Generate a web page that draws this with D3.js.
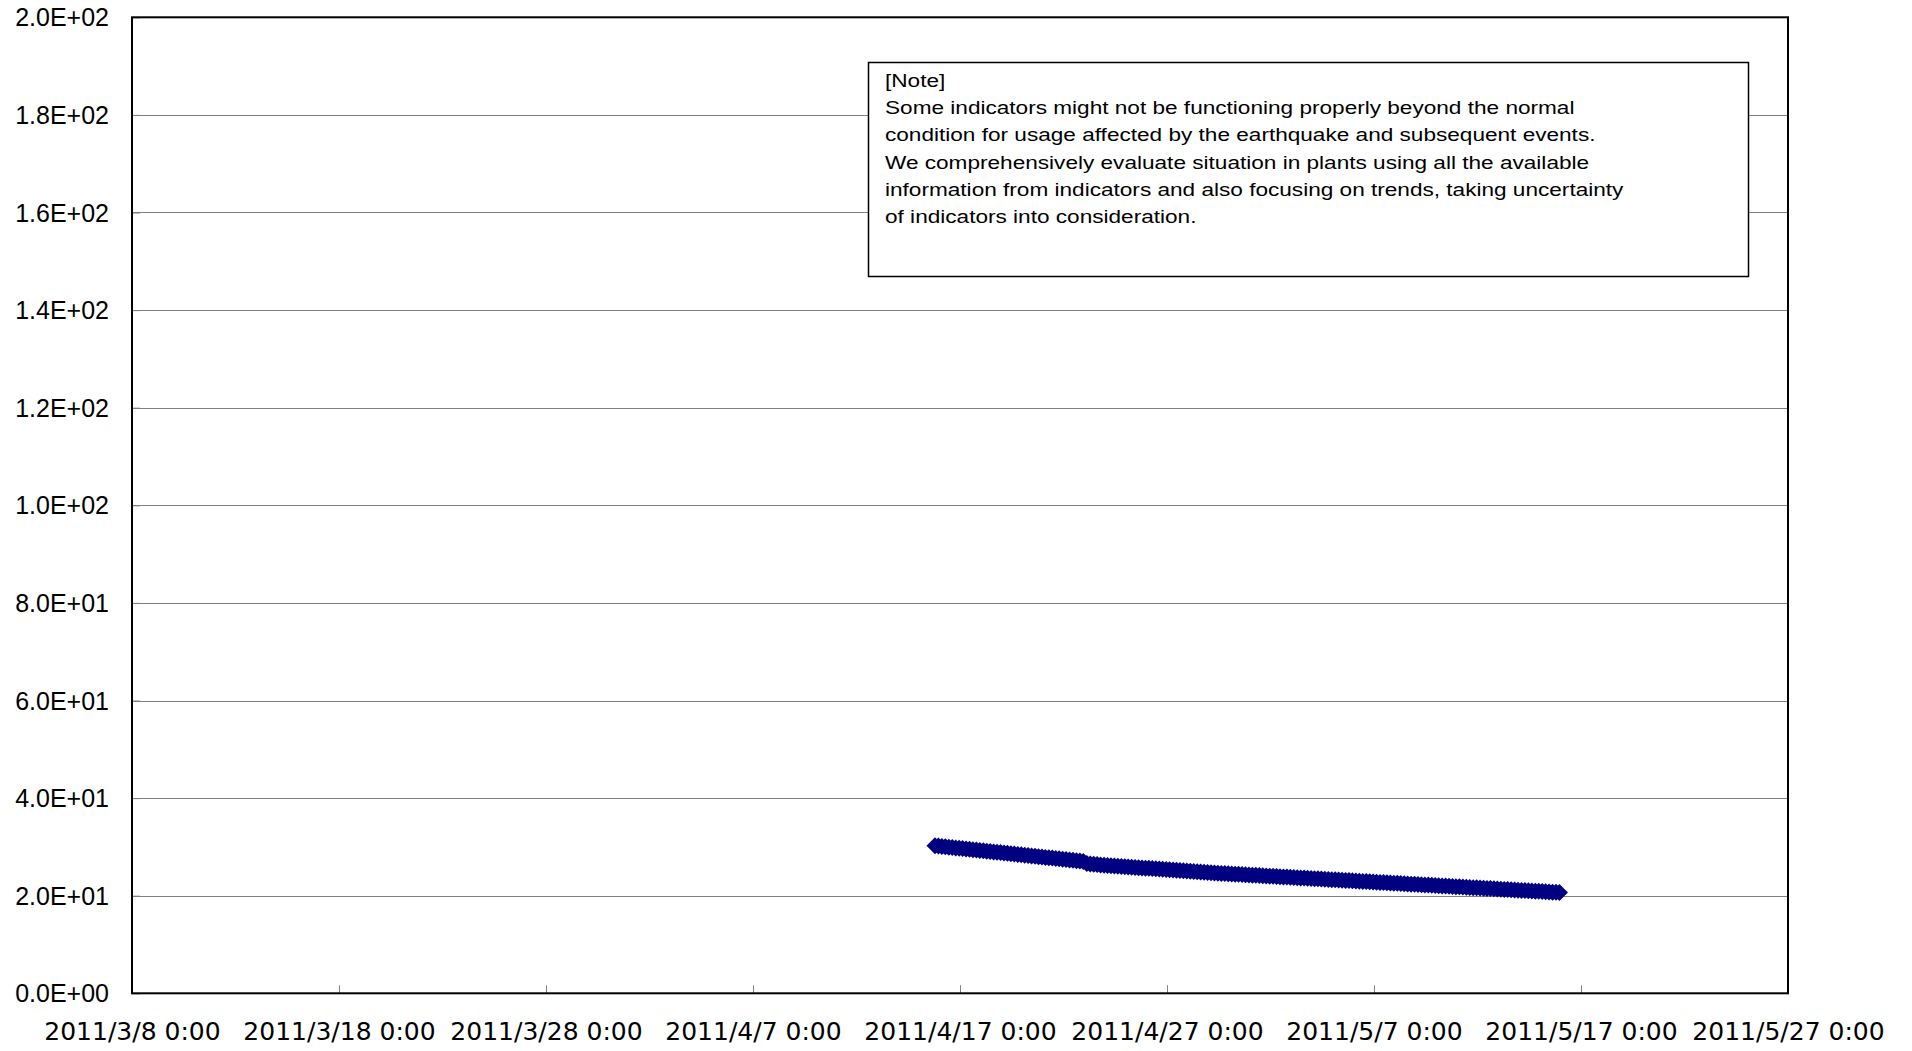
<!DOCTYPE html>
<html>
<head>
<meta charset="utf-8">
<script src="https://cdn.jsdelivr.net/npm/d3@7"></script>
<style>
  html, body { margin: 0; padding: 0; background: #fff; }
  svg { display: block; }
</style>
</head>
<body>
<svg id="chart" width="1912" height="1051"></svg>
<script>
// ---------------- data ----------------
const xDomain = ["2011-03-08T00:00", "2011-05-27T00:00"];
const xTickDates = ["2011-03-08T00:00", "2011-03-18T00:00", "2011-03-28T00:00", "2011-04-07T00:00",
  "2011-04-17T00:00", "2011-04-27T00:00", "2011-05-07T00:00", "2011-05-17T00:00", "2011-05-27T00:00"];
const xTickLabels = ["2011/3/8 0:00", "2011/3/18 0:00", "2011/3/28 0:00", "2011/4/7 0:00",
  "2011/4/17 0:00", "2011/4/27 0:00", "2011/5/7 0:00", "2011/5/17 0:00", "2011/5/27 0:00"];
const yTickValues = [0, 20, 40, 60, 80, 100, 120, 140, 160, 180, 200];
const yTickLabels = ["0.0E+00", "2.0E+01", "4.0E+01", "6.0E+01", "8.0E+01", "1.0E+02",
  "1.2E+02", "1.4E+02", "1.6E+02", "1.8E+02", "2.0E+02"];
const seriesStart = "2011-04-15T19:00";
const seriesStepHours = 4;
const seriesValues = [
  30.25,
  30.18, 30.10, 30.03, 29.95, 29.88, 29.80,
  29.73, 29.65, 29.58, 29.50, 29.43, 29.35,
  29.28, 29.20, 29.13, 29.05, 28.98, 28.90,
  28.83, 28.75, 28.68, 28.60, 28.53, 28.45,
  28.38, 28.30, 28.23, 28.15, 28.08, 28.00,
  27.93, 27.85, 27.78, 27.70, 27.63, 27.55,
  27.48, 27.40, 27.33, 27.25, 27.18, 27.10,
  27.03, 26.60, 26.52, 26.45, 26.38, 26.30,
  26.25, 26.20, 26.15, 26.10, 26.05, 26.00,
  25.95, 25.90, 25.85, 25.80, 25.75, 25.70,
  25.65, 25.60, 25.55, 25.50, 25.45, 25.40,
  25.35, 25.30, 25.25, 25.20, 25.15, 25.10,
  25.05, 25.00, 24.95, 24.90, 24.85, 24.80,
  24.75, 24.70, 24.65, 24.61, 24.57, 24.53,
  24.49, 24.45, 24.41, 24.37, 24.33, 24.29,
  24.25, 24.21, 24.17, 24.13, 24.09, 24.05,
  24.01, 23.97, 23.93, 23.89, 23.85, 23.81,
  23.77, 23.73, 23.69, 23.65, 23.61, 23.57,
  23.53, 23.49, 23.45, 23.41, 23.37, 23.33,
  23.29, 23.25, 23.21, 23.17, 23.13, 23.09,
  23.05, 23.01, 22.97, 22.93, 22.89, 22.85,
  22.81, 22.77, 22.73, 22.69, 22.65, 22.61,
  22.57, 22.53, 22.49, 22.45, 22.41, 22.37,
  22.33, 22.29, 22.25, 22.21, 22.17, 22.13,
  22.09, 22.05, 22.01, 21.97, 21.93, 21.89,
  21.85, 21.81, 21.77, 21.73, 21.69, 21.65,
  21.61, 21.57, 21.53, 21.49, 21.45, 21.41,
  21.37, 21.33, 21.29, 21.25, 21.21, 21.17,
  21.13, 21.09, 21.05, 21.01, 20.97, 20.93,
  20.89, 20.85, 20.81, 20.77, 20.73, 20.69,
  20.65
];
const noteLines = [
  "[Note]",
  "Some indicators might not be functioning properly beyond the normal",
  "condition for usage affected by the earthquake and subsequent events.",
  "We comprehensively evaluate situation in plants using all the available",
  "information from indicators and also focusing on trends, taking uncertainty",
  "of indicators into consideration."
];

// ---------------- layout ----------------
const plot = { left: 132, right: 1788, top: 17.3, bottom: 993.3 };
const parse = d3.utcParse("%Y-%m-%dT%H:%M");

const x = d3.scaleUtc().domain(xDomain.map(parse)).range([plot.left, plot.right]);
const y = d3.scaleLinear().domain([0, 200]).range([plot.bottom, plot.top]);

const t0 = parse(seriesStart).getTime();
const points = seriesValues.map((v, i) => ({ t: new Date(t0 + i * seriesStepHours * 3600e3), v }));

const svg = d3.select("#chart");

// gridlines
svg.append("g").selectAll("line")
  .data(yTickValues.filter(v => v > 0 && v < 200))
  .join("line")
  .attr("x1", plot.left).attr("x2", plot.right)
  .attr("y1", d => Math.round(y(d)) + 0.5).attr("y2", d => Math.round(y(d)) + 0.5)
  .attr("stroke", "#808080").attr("stroke-width", 1);

// y axis (ticks inward, labels left)
const yAxis = d3.axisLeft(y).tickValues(yTickValues).tickSizeInner(-8).tickSizeOuter(0)
  .tickFormat((d, i) => yTickLabels[i]).tickPadding(23);
const gy = svg.append("g").attr("transform", `translate(${plot.left},0)`).call(yAxis);
gy.select(".domain").remove();
gy.selectAll(".tick line").attr("stroke", "#808080");
gy.selectAll(".tick text")
  .attr("font-family", "'Liberation Sans', Arial, sans-serif")
  .attr("font-size", 25).attr("fill", "#000")
  .attr("dy", "0.34em");

// x axis (ticks inward, labels below)
const xAxis = d3.axisBottom(x).tickValues(xTickDates.map(parse)).tickSizeInner(-8).tickSizeOuter(0)
  .tickFormat((d, i) => xTickLabels[i]).tickPadding(30);
const gx = svg.append("g").attr("transform", `translate(0,${plot.bottom})`).call(xAxis);
gx.select(".domain").remove();
gx.selectAll(".tick line").attr("stroke", "#808080");
gx.selectAll(".tick text")
  .attr("font-family", "'DejaVu Sans', sans-serif")
  .attr("font-size", 25).attr("fill", "#000")
  .attr("dy", "0.66em");

// plot frame
svg.append("rect")
  .attr("x", plot.left).attr("y", plot.top)
  .attr("width", plot.right - plot.left).attr("height", plot.bottom - plot.top)
  .attr("fill", "none").attr("stroke", "#000").attr("stroke-width", 2);

// series: diamond markers
const r = 8.5;
const diamond = `M0,${-r}L${r},0L0,${r}L${-r},0Z`;
svg.append("g").selectAll("path")
  .data(points)
  .join("path")
  .attr("d", diamond)
  .attr("transform", d => `translate(${x(d.t)},${y(d.v)})`)
  .attr("fill", "#000080");

// note box
const note = { x: 868.5, y: 62.5, w: 880, h: 214 };
svg.append("rect")
  .attr("x", note.x).attr("y", note.y).attr("width", note.w).attr("height", note.h)
  .attr("fill", "#fff").attr("stroke", "#000").attr("stroke-width", 1.5);

const noteG = svg.append("g");
const nt = noteG.selectAll("text")
  .data(noteLines)
  .join("text")
  .attr("x", 0)
  .attr("y", (d, i) => i * 27.3)
  .attr("font-family", "'Liberation Sans', Arial, sans-serif")
  .attr("font-size", 18.5)
  .attr("fill", "#000")
  .text(d => d);
const natural = nt.nodes()[1].getComputedTextLength();
const sx = 690 / natural;
noteG.attr("transform", `translate(885,86.7) scale(${sx},1)`);
</script>
</body>
</html>
